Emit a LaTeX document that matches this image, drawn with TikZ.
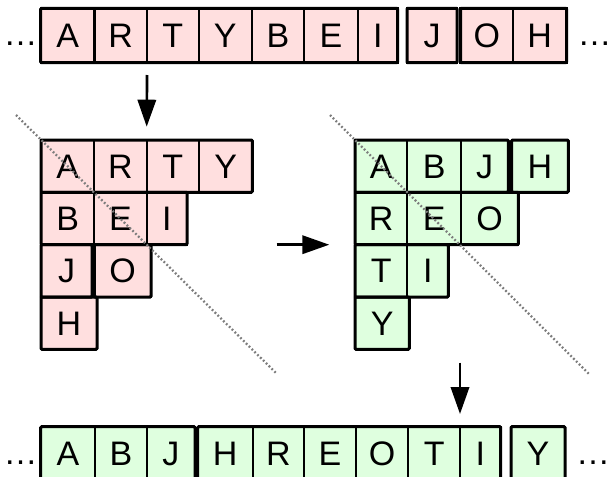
\documentclass[tikz,border=0pt]{standalone}
\usepackage{fontspec}
\setmainfont{Liberation Sans}
\usepackage{tikz}
\usetikzlibrary{arrows.meta, positioning, calc}
\definecolor{Rosa}     {RGB}{255,223,223}
\definecolor{Verde}    {RGB}{223,255,223}
\definecolor{GrisPunto}{RGB}{125,125,125}

\begin{document}
\begin{tikzpicture}[
      x=1pt, y=-1pt,
      celda/.style ={draw=black,fill=#1,line width=2.2pt,outer sep=0pt,
                     inner sep=0pt,minimum height=52.3pt,anchor=north west,
                     text height=24pt,text depth=0pt,
                     font=\fontsize{34}{38}\selectfont},
      lineal/.style={minimum height=54.4pt},
      grupo/.style ={draw=black,line width=3pt,rounded corners=1pt},
      puntos/.style={inner sep=0pt,font=\fontsize{34}{38}\selectfont},
      flecha/.style={-{Triangle[length=27pt,width=18.3pt]},line width=2.7pt},
      diag/.style  ={GrisPunto,line width=2.3pt,dash pattern=on 1.8pt off 2.2pt}]
      \useasboundingbox (0,0) rectangle (611,477);
      % fila de arriba
      \foreach \l/\x/\w in {A/40.7/53.8,R/94.5/52.5,T/147/51.6,Y/198.6/53.4,
                            B/252/52,E/304/54,I/358/39.5,J/407/50,
                            O/460.5/52.5,H/513/53.5}
        \node[celda=Rosa,lineal,minimum width=\w pt] (t\l) at (\x,8.3) {\l};
      \draw[grupo] (tA.north west) rectangle (tI.south east);
      \draw[grupo] (tJ.north west) rectangle (tJ.south east);
      \draw[grupo] (tO.north west) rectangle (tH.south east);
      \node[puntos,anchor=east] (tizq) at ([xshift=-3pt,yshift=-8pt]tA.west) {…};
      \node[puntos,anchor=west] (tder) at ([xshift=11pt,yshift=-8pt]tH.east) {…};
      % triangulo izquierdo
      \foreach \l/\x/\y/\w in {A/41/140/53.3,R/94.3/140/52.4,T/146.7/140/52.3,
                               Y/199/140/53.3,B/41/192.3/53.3,E/94.3/192.3/52.4,
                               I/146.7/192.3/40.3,J/41/244.7/51,
                               O/94.3/244.7/56.7,H/41/297/56}
        \node[celda=Rosa,minimum width=\w pt] (l\l) at (\x,\y) {\l};
      \draw[grupo] (lA.north west) rectangle (lY.south east);
      \draw[grupo] (lB.north west) rectangle (lI.south east);
      \draw[grupo] (lJ.north west) rectangle (lJ.south east);
      \draw[grupo] (lO.north west) rectangle (lO.south east);
      \draw[grupo] (lH.north west) rectangle (lH.south east);
      % triangulo derecho
      \foreach \l/\x/\y/\w in {A/355/140/52.3,B/407.3/140/53.7,J/461/140/47.3,
                               H/511.7/140/56.6,R/355/192.3/52.3,
                               E/407.3/192.3/53.7,O/461/192.3/57.3,
                               T/355/244.7/52.3,I/407.3/244.7/41,Y/355/297/54.3}
        \node[celda=Verde,minimum width=\w pt] (r\l) at (\x,\y) {\l};
      \draw[grupo] (rA.north west) rectangle (rJ.south east);
      \draw[grupo] (rH.north west) rectangle (rH.south east);
      \draw[grupo] (rR.north west) rectangle (rO.south east);
      \draw[grupo] (rT.north west) rectangle (rI.south east);
      \draw[grupo] (rY.north west) rectangle (rY.south east);
      % fila de abajo
      \foreach \l/\x/\w in {A/40.7/54.3,B/95/51.7,J/146.7/48.3,H/197.7/55,
                            R/252.7/51.3,E/304/52,O/356/52.3,T/408.3/51.7,
                            I/460/40.7,Y/511/54}
        \node[celda=Verde,lineal,minimum width=\w pt] (b\l) at (\x,426.7) {\l};
      \draw[grupo] (bA.north west) rectangle (bJ.south east);
      \draw[grupo] (bH.north west) rectangle (bI.south east);
      \draw[grupo] (bY.north west) rectangle (bY.south east);
      \node[puntos,anchor=east] (bizq) at ([xshift=-3pt,yshift=-9pt]bA.west) {…};
      \node[puntos,anchor=west] (bder) at ([xshift=11pt,yshift=-9pt]bY.east) {…};
      % flechas
      \draw[flecha] ([yshift=-12.3pt]tR.south east) -- ([yshift=13.3pt]lT.north west);
      \draw[flecha] ([xshift=24.4pt]lY.east |- rT.north west)
                 -- ([xshift=-25.7pt]rT.north west);
      \draw[flecha] ([yshift=-13.3pt]bT.north east |- rY.south)
                 -- ([yshift=12.7pt]bT.north east);
      % diagonales
      \draw[diag] ([shift={(-25pt,25pt)}]lA.north west)
               -- ([shift={(236pt,-234pt)}]lA.north west);
      \draw[diag] ([shift={(-25pt,25pt)}]rA.north west)
               -- ([shift={(235pt,-235pt)}]rA.north west);
    \end{tikzpicture}
\end{document}
